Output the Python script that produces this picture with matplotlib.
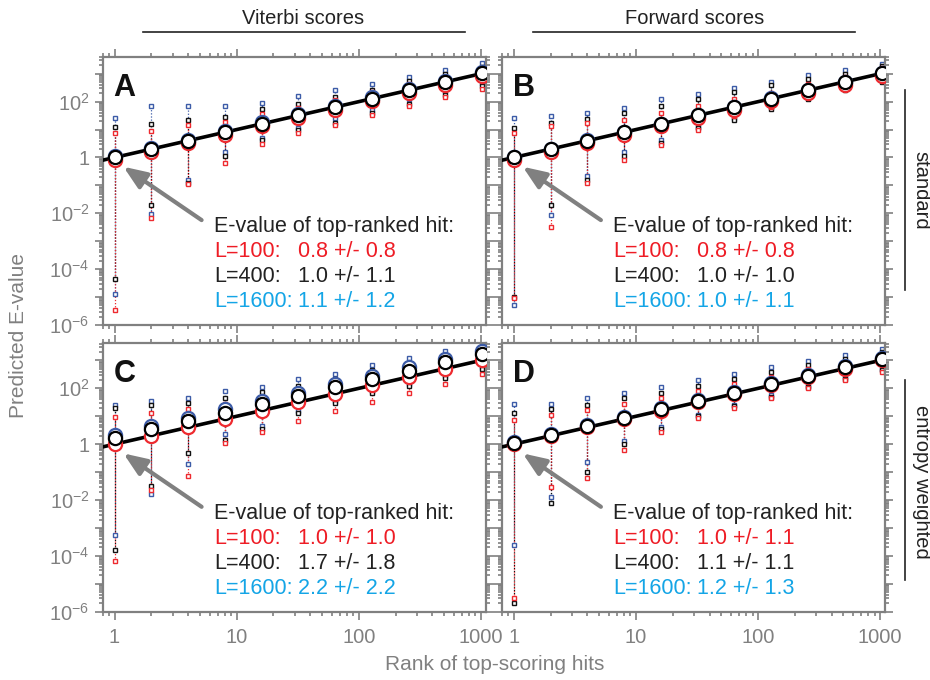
import numpy as np
import matplotlib
matplotlib.use("Agg")
import matplotlib.pyplot as plt
from matplotlib.ticker import LogLocator, FuncFormatter, NullFormatter
from matplotlib.lines import Line2D

plt.rcParams['font.family'] = ['Liberation Sans', 'DejaVu Sans']
plt.rcParams['mathtext.fontset'] = 'custom'
plt.rcParams['mathtext.rm'] = 'Liberation Sans'
plt.rcParams['mathtext.it'] = 'Liberation Sans:italic'
plt.rcParams['mathtext.bf'] = 'Liberation Sans:bold'

# ---------------- data (log10 of E-values) ----------------
ranks = [1, 2, 4, 8, 16, 32, 64, 128, 256, 512, 1024]
lengths = [100, 400, 1600]

# Panel A (Viterbi, standard)
A_max_100 = [0.88, 0.95, 1.15, 1.28, 1.54, 1.78, 2.05, 2.33, 2.62, 2.88, 3.15]
A_max_400 = [1.10, 1.19, 1.34, 1.45, 1.72, 1.93, 2.17, 2.43, 2.74, 2.98, 3.25]
A_max_1600 = [1.40, 1.84, 1.84, 1.85, 1.96, 2.20, 2.43, 2.63, 2.89, 3.15, 3.39]
A_min_100 = [-5.46, -2.15, -0.95, -0.19, 0.47, 0.86, 1.18, 1.52, 1.85, 2.15, 2.45]
A_min_400 = [-4.36, -1.71, -0.93, 0.05, 0.62, 0.98, 1.24, 1.61, 1.93, 2.23, 2.56]
A_min_1600 = [-4.90, -2.04, -0.81, 0.20, 0.69, 1.04, 1.40, 1.69, 2.08, 2.39, 2.67]
A_mean_100 = [0.8, 1.6, 3.2, 6.4, 13, 26, 51, 103, 205, 410, 820]
A_mean_400 = [1.0, 2.0, 4.0, 8.0, 16, 32, 64, 128, 256, 512, 1024]
A_mean_1600 = [1.1, 2.2, 4.4, 8.8, 18, 35, 70, 141, 282, 563, 1126]

# Panel B (Forward, standard)
B_max_100 = [0.86, 1.12, 1.22, 1.36, 1.58, 1.84, 2.08, 2.31, 2.65, 2.89, 3.19]
B_max_400 = [1.06, 1.24, 1.37, 1.58, 1.84, 2.09, 2.35, 2.59, 2.80, 3.00, 3.28]
B_max_1600 = [1.42, 1.49, 1.60, 1.79, 2.09, 2.26, 2.49, 2.71, 2.95, 3.15, 3.34]
B_min_100 = [-5.05, -2.50, -0.90, -0.10, 0.45, 1.00, 1.48, 1.80, 2.17, 2.45, 2.79]
B_min_400 = [-5.00, -1.71, -0.79, 0.05, 0.52, 1.04, 1.34, 1.75, 2.09, 2.41, 2.71]
B_min_1600 = [-5.30, -2.05, -0.66, 0.20, 0.62, 1.10, 1.40, 1.80, 2.12, 2.45, 2.75]
B_mean_100 = [0.8, 1.6, 3.2, 6.4, 13, 26, 51, 103, 205, 410, 820]
B_mean_400 = [1.0, 2.0, 4.0, 8.0, 16, 32, 64, 128, 256, 512, 1024]
B_mean_1600 = [1.0, 2.0, 4.1, 8.2, 16, 33, 65, 130, 260, 520, 1040]

# Panel C (Viterbi, entropy weighted)
C_max_100 = [0.98, 1.12, 1.25, 1.43, 1.69, 1.95, 2.20, 2.45, 2.70, 3.00, 3.30]
C_max_400 = [1.31, 1.40, 1.48, 1.66, 1.87, 2.09, 2.35, 2.65, 2.91, 3.19, 3.49]
C_max_1600 = [1.40, 1.55, 1.66, 1.90, 2.05, 2.32, 2.53, 2.83, 3.07, 3.34, 3.60]
C_min_100 = [-4.19, -1.65, -1.15, 0.05, 0.42, 0.83, 1.19, 1.52, 1.82, 2.14, 2.51]
C_min_400 = [-3.80, -1.49, -0.30, 0.14, 0.56, 1.13, 1.46, 1.84, 2.08, 2.37, 2.69]
C_min_1600 = [-3.24, -1.79, -0.72, 0.36, 0.65, 1.20, 1.55, 1.92, 2.15, 2.45, 2.75]
C_mean_100 = [1.0, 2.0, 4.0, 8.0, 16, 32, 64, 128, 256, 512, 1024]
C_mean_400 = [1.7, 3.4, 6.8, 13.6, 27, 54, 109, 218, 435, 870, 1740]
C_mean_1600 = [2.2, 4.4, 8.8, 17.6, 35, 70, 141, 282, 563, 1126, 2253]

# Panel D (Forward, entropy weighted)
D_max_100 = [0.86, 1.05, 1.22, 1.45, 1.65, 1.90, 2.15, 2.40, 2.70, 2.95, 3.20]
D_max_400 = [1.11, 1.25, 1.40, 1.65, 1.85, 2.10, 2.35, 2.60, 2.85, 3.05, 3.30]
D_max_1600 = [1.43, 1.45, 1.65, 1.85, 2.05, 2.30, 2.50, 2.75, 2.98, 3.20, 3.40]
D_min_100 = [-5.50, -1.54, -1.22, -0.20, 0.45, 0.95, 1.30, 1.65, 2.00, 2.30, 2.60]
D_min_400 = [-5.70, -2.11, -1.00, 0.00, 0.55, 1.00, 1.35, 1.70, 2.05, 2.35, 2.65]
D_min_1600 = [-3.62, -1.90, -0.64, 0.10, 0.60, 1.05, 1.40, 1.75, 2.10, 2.40, 2.70]
D_mean_100 = [1.0, 2.0, 4.0, 8.0, 16, 32, 64, 128, 256, 512, 1024]
D_mean_400 = [1.1, 2.2, 4.4, 8.8, 18, 35, 70, 141, 282, 563, 1126]
D_mean_1600 = [1.2, 2.4, 4.8, 9.6, 19, 38, 77, 154, 307, 614, 1229]

panel_letters = ['A', 'B', 'C', 'D']
legend_means = {
    'A': ['0.8 +/- 0.8', '1.0 +/- 1.1', '1.1 +/- 1.2'],
    'B': ['0.8 +/- 0.8', '1.0 +/- 1.0', '1.0 +/- 1.1'],
    'C': ['1.0 +/- 1.0', '1.7 +/- 1.8', '2.2 +/- 2.2'],
    'D': ['1.0 +/- 1.1', '1.1 +/- 1.1', '1.2 +/- 1.3'],
}
legend_labels = ['L=100:', 'L=400:', 'L=1600:']
x_ticklabels = ['1', '10', '100', '1000']

# ---------------- styling ----------------
GRAY = '#808080'
sq_colors = {100: '#ee2a2f', 400: '#111111', 1600: '#3d5ca8'}
txt_colors = ['#ee1c25', '#222222', '#14a5e6']

W, H = 930, 680
fig = plt.figure(figsize=(W / 100, H / 100), dpi=100)

def fx(px):
    return px / W

def fy(py):
    return 1 - py / H

ax_w = 383.3 / W
ax_h = 268.3 / H
positions = {
    'A': (fx(102.7), fy(325.0)),
    'B': (fx(502.0), fy(325.0)),
    'C': (fx(102.7), fy(611.7)),
    'D': (fx(502.0), fy(611.7)),
}

data = {
    'A': (A_max_100, A_max_400, A_max_1600, A_min_100, A_min_400, A_min_1600, A_mean_100, A_mean_400, A_mean_1600),
    'B': (B_max_100, B_max_400, B_max_1600, B_min_100, B_min_400, B_min_1600, B_mean_100, B_mean_400, B_mean_1600),
    'C': (C_max_100, C_max_400, C_max_1600, C_min_100, C_min_400, C_min_1600, C_mean_100, C_mean_400, C_mean_1600),
    'D': (D_max_100, D_max_400, D_max_1600, D_min_100, D_min_400, D_min_1600, D_mean_100, D_mean_400, D_mean_1600),
}

def ylab(v, pos):
    e = int(round(np.log10(v)))
    if e % 2 != 0:
        return ''
    if e == 0:
        return '1'
    return r'$\mathregular{10^{%d}}$' % e

def xlab(v, pos):
    e = int(round(np.log10(v)))
    if 0 <= e < len(x_ticklabels):
        return x_ticklabels[e]
    return ''

for letter in panel_letters:
    x0, y0 = positions[letter]
    ax = fig.add_axes([x0, y0, ax_w, ax_h])
    ax.set_xscale('log')
    ax.set_yscale('log')
    ax.set_xlim(0.8, 1100)
    ax.set_ylim(1e-6, 10 ** 3.61)

    mx100, mx400, mx1600, mn100, mn400, mn1600, me100, me400, me1600 = data[letter]
    maxs = {100: mx100, 400: mx400, 1600: mx1600}
    mins = {100: mn100, 400: mn400, 1600: mn1600}
    means = {100: me100, 400: me400, 1600: me1600}

    for L in [1600, 400, 100]:
        hi = 10 ** np.array(maxs[L])
        lo = 10 ** np.array(mins[L])
        ax.vlines(ranks, lo, hi, colors=sq_colors[L], linestyles=(0, (1, 1.5)), lw=0.9, zorder=1)
    for L in [1600, 400, 100]:
        hi = 10 ** np.array(maxs[L])
        lo = 10 ** np.array(mins[L])
        ax.plot(ranks, hi, ls='none', marker='s', ms=3.3, mfc='white', mec=sq_colors[L], mew=1.0, zorder=2)
        ax.plot(ranks, lo, ls='none', marker='s', ms=3.3, mfc='white', mec=sq_colors[L], mew=1.0, zorder=2)

    ax.axline((1, 1), (1000, 1000), color='black', lw=2.6, zorder=3)

    for L, z in [(1600, 4), (100, 5), (400, 6)]:
        ax.plot(ranks, means[L], ls='none', marker='o', ms=9.5, mfc='white',
                mec=sq_colors[L] if L != 400 else 'black', mew=1.6, zorder=z)

    # ticks
    ax.xaxis.set_major_locator(LogLocator(base=10, numticks=20))
    ax.xaxis.set_minor_locator(LogLocator(base=10, subs=np.arange(2, 10), numticks=20))
    ax.yaxis.set_major_locator(LogLocator(base=10, numticks=30))
    ax.yaxis.set_minor_locator(LogLocator(base=10, subs=np.arange(2, 10), numticks=30))
    ax.xaxis.set_major_formatter(FuncFormatter(xlab))
    ax.yaxis.set_major_formatter(FuncFormatter(ylab))
    ax.xaxis.set_minor_formatter(NullFormatter())
    ax.yaxis.set_minor_formatter(NullFormatter())
    ax.tick_params(which='both', direction='out', top=True, right=True, color=GRAY,
                   labelcolor=GRAY, labelsize=14.5, width=1.2)
    ax.tick_params(which='major', length=6)
    ax.tick_params(which='minor', length=3)
    ax.tick_params(axis='x', pad=6)
    if letter in ('A', 'B'):
        ax.tick_params(axis='x', labelbottom=False)
    if letter in ('B', 'D'):
        ax.tick_params(axis='y', labelleft=False)
    for s in ax.spines.values():
        s.set_color(GRAY)
        s.set_linewidth(1.6)

    ax.text(0.028, 0.94, letter, transform=ax.transAxes, fontsize=22, fontweight='bold',
            ha='left', va='top', color='#111111')

    ax.annotate('', xy=(0.054, 0.59), xycoords='axes fraction',
                xytext=(0.258, 0.391), textcoords='axes fraction',
                arrowprops=dict(arrowstyle='-|>,head_length=0.7,head_width=0.28',
                                color=GRAY, lw=3, mutation_scale=20, shrinkA=0, shrinkB=0))

    ax.text(0.29, 0.367, 'E-value of top-ranked hit:', transform=ax.transAxes,
            fontsize=15.5, color='#222222', ha='left', va='center')
    for i, (lab, val) in enumerate(zip(legend_labels, legend_means[letter])):
        yy = 0.274 - i * 0.0932
        ax.text(0.29, yy, lab, transform=ax.transAxes, fontsize=15.5,
                color=txt_colors[i], ha='left', va='center')
        ax.text(0.51, yy, val, transform=ax.transAxes, fontsize=15.5,
                color=txt_colors[i], ha='left', va='center')

# column / row headers
fig.text(fx(303), fy(18), 'Viterbi scores', ha='center', va='center', fontsize=14.5, color='#222222')
fig.text(fx(695), fy(18), 'Forward scores', ha='center', va='center', fontsize=14.5, color='#222222')
fig.add_artist(Line2D([fx(143), fx(465)], [fy(32), fy(32)], color='#222222', lw=1.2))
fig.add_artist(Line2D([fx(533), fx(855)], [fy(32), fy(32)], color='#222222', lw=1.2))

fig.text(fx(921), fy(190), 'standard', ha='center', va='center', rotation=-90, fontsize=14.5, color='#222222')
fig.text(fx(921), fy(482), 'entropy weighted', ha='center', va='center', rotation=-90, fontsize=14.5, color='#222222')
fig.add_artist(Line2D([fx(905), fx(905)], [fy(90), fy(290)], color='#222222', lw=1.2))
fig.add_artist(Line2D([fx(905), fx(905)], [fy(380), fy(580)], color='#222222', lw=1.2))

fig.text(fx(18), fy(335), 'Predicted E-value', ha='center', va='center', rotation=90, fontsize=15, color=GRAY)
fig.text(fx(495), fy(664), 'Rank of top-scoring hits', ha='center', va='center', fontsize=15, color=GRAY)

fig.savefig('out.png', dpi=100)
